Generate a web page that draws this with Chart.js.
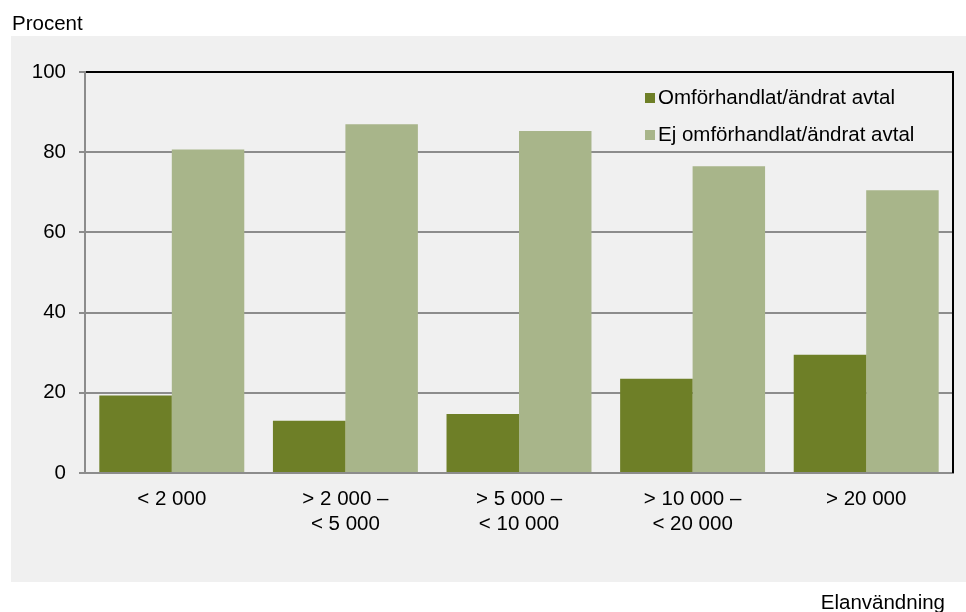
<!DOCTYPE html>
<html>
<head>
<meta charset="utf-8">
<script src="https://cdn.jsdelivr.net/npm/chart.js@4"></script>
<style>
  html, body { margin: 0; padding: 0; background: #fff; }
  #wrap { width: 966px; height: 612px; position: relative; }
</style>
</head>
<body>
<div id="wrap"><canvas id="myChart" width="966" height="612"></canvas></div>
<script>
var categories = [["< 2 000"], ["> 2 000 –", "< 5 000"], ["> 5 000 –", "< 10 000"], ["> 10 000 –", "< 20 000"], ["> 20 000"]];
var renegotiated = [19.3, 13, 14.7, 23.5, 29.5];
var notRenegotiated = [80.7, 87, 85.3, 76.5, 70.5];
var yTicks = [0, 20, 40, 60, 80, 100];

var FONT = "'Liberation Sans', Arial, sans-serif";
var FS = 20.5;

// gray panel + texts outside the plot
var panelPlugin = {
  id: 'panel',
  beforeDraw: function(chart) {
    var c = chart.ctx;
    c.save();
    c.fillStyle = '#f0f0f0';
    c.fillRect(11, 36, 955, 546);
    c.fillStyle = '#000';
    c.font = FS + 'px ' + FONT;
    c.textBaseline = 'middle';
    c.textAlign = 'left';
    c.fillText('Procent', 12, 24);
    c.textAlign = 'right';
    c.fillText('Elanvändning', 945, 603);
    c.restore();
  },
  afterDraw: function(chart) {
    var c = chart.ctx, a = chart.chartArea;
    c.save();
    // right border of the plot
    c.strokeStyle = '#000';
    c.lineWidth = 2;
    c.beginPath();
    c.moveTo(a.right, a.top - 1);
    c.lineTo(a.right, a.bottom);
    c.stroke();
    // legend
    c.font = FS + 'px ' + FONT;
    c.textBaseline = 'middle';
    c.textAlign = 'left';
    chart.data.datasets.forEach(function(ds, i) {
      var y = 98 + i * 37;
      c.fillStyle = ds.backgroundColor;
      c.fillRect(645, y - 5, 10, 10);
      c.fillStyle = '#000';
      c.fillText(ds.label, 658, y);
    });
    c.restore();
  }
};

var ctx = document.getElementById("myChart");
var myChart = new Chart(ctx, {
  type: 'bar',
  data: {
    labels: categories,
    datasets: [{
      label: 'Omförhandlat/ändrat avtal',
      data: renegotiated,
      backgroundColor: '#6e7f27'
    }, {
      label: 'Ej omförhandlat/ändrat avtal',
      data: notRenegotiated,
      backgroundColor: '#a8b58a'
    }]
  },
  options: {
    responsive: false,
    animation: false,
    layout: { padding: { top: 72, right: 13, left: 0, bottom: 0 } },
    categoryPercentage: 0.835,
    barPercentage: 1,
    plugins: {
      legend: { display: false },
      tooltip: { enabled: false }
    },
    scales: {
      x: {
        afterFit: function(s) { s.height = 139; },
        grid: { display: false, drawTicks: false },
        border: { display: true, color: '#8c8c8c', width: 2 },
        ticks: { color: '#000', padding: 14, font: { family: FONT, size: FS, lineHeight: 1.2 }, maxRotation: 0 }
      },
      y: {
        min: 0,
        max: 100,
        afterFit: function(s) { s.width = 85; },
        afterBuildTicks: function(s) { s.ticks = yTicks.map(function(v) { return { value: v }; }); },
        grid: {
          color: function(c) { return c.tick && c.tick.value === 100 ? '#000' : '#8c8c8c'; },
          lineWidth: 2,
          tickLength: 6,
          tickColor: '#8c8c8c'
        },
        border: { display: true, color: '#8c8c8c', width: 2 },
        ticks: { color: '#000', padding: 13, font: { family: FONT, size: FS } }
      }
    }
  },
  plugins: [panelPlugin]
});
</script>
</body>
</html>
